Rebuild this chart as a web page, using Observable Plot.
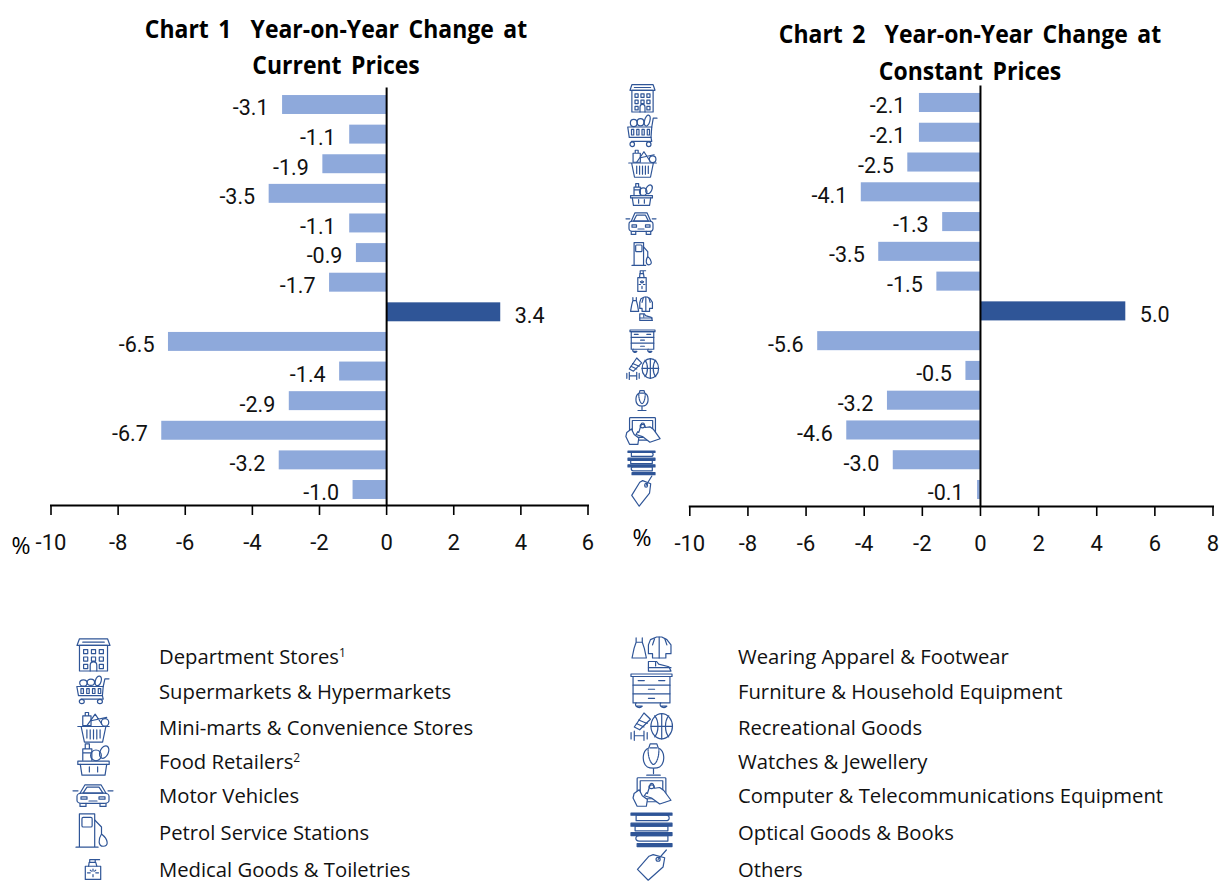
<!DOCTYPE html>
<html><head><meta charset="utf-8">
<script src="https://cdn.jsdelivr.net/npm/d3@7"></script>
<script src="https://cdn.jsdelivr.net/npm/@observablehq/plot@0.6"></script>
<style>
html,body{margin:0;padding:0;background:#fff;width:1219px;height:881px;overflow:hidden;position:relative;font-family:"Open Sans",sans-serif;color:#000}
.title{position:absolute;font-weight:700;font-size:25.5px;line-height:36px;text-align:center;word-spacing:4px;white-space:pre;transform:translateX(-50%) scaleX(.9);color:#000}
.leg{position:absolute;font-size:20.25px;line-height:20px;white-space:nowrap;color:#111;transform:translateY(-50%)}
.leg sup{font-size:12px;line-height:0;vertical-align:7px}
.pct{position:absolute;font-size:23px;line-height:26px;transform:translate(-50%,-50%)}
.ic{position:absolute;display:block}
.ic svg{display:block;width:100%;height:100%;overflow:visible}
.ic svg *{vector-effect:non-scaling-stroke}
</style></head><body>
<div id="page"></div>
<script>
const categories = ["Department Stores","Supermarkets & Hypermarkets","Mini-marts & Convenience Stores","Food Retailers","Motor Vehicles","Petrol Service Stations","Medical Goods & Toiletries","Wearing Apparel & Footwear","Furniture & Household Equipment","Recreational Goods","Watches & Jewellery","Computer & Telecommunications Equipment","Optical Goods & Books","Others"];
const currentPrices = [-3.1,-1.1,-1.9,-3.5,-1.1,-0.9,-1.7,3.4,-6.5,-1.4,-2.9,-6.7,-3.2,-1.0];
const constantPrices = [-2.1,-2.1,-2.5,-4.1,-1.3,-3.5,-1.5,5.0,-5.6,-0.5,-3.2,-4.6,-3.0,-0.1];
const notes = {"Department Stores":"1","Food Retailers":"2"};
const ticks1 = [-10,-8,-6,-4,-2,0,2,4,6];
const ticks2 = [-10,-8,-6,-4,-2,0,2,4,6,8];
const light = "#8EA9DB", dark = "#2F5597", ink = "#2F5597";

const icons = [
`<path d="M3 40V9H37V40Z"/><path d="M0 9L3 1H37L40 9Z"/><path d="M7 5H33"/><path d="M8 14h5v5h-5zM17.500 14h5v5h-5zM27 14h5v5h-5zM8 23h5v5h-5zM17.500 23h5v5h-5zM27 23h5v5h-5zM8 32h5v5h-5zM27 32h5v5h-5zM16 40v-7a4 4 0 0 1 8 0v7"/>`,
`<path d="M1 15H33L32 28H3Z"/><path d="M6 18v7M6 18h3v7h-3zM13 18h3v7h-3zM20 18h3v7h-3zM27 18h3v7h-3z"/><path d="M33 15L35 4H40M32 28L33 33H6"/><circle cx="7" cy="36.500" r="3"/><circle cx="29" cy="36.500" r="3"/><circle cx="9" cy="10" r="4.500"/><circle cx="18" cy="9" r="4.500"/><ellipse cx="27" cy="7" rx="3.500" ry="7" transform="rotate(15 27 7)"/>`,
`<path d="M1 20H39M5 20L9 39H31L35 20Z"/><path d="M12 24v10M16 24v11M20 24v11M24 24v11M28 24v10"/><path d="M10 3h4v4h-4zM7 7H17V19H7Z"/><path d="M12 19L22 5L30 17M17 13L36 9"/><circle cx="34" cy="15" r="4.500"/>`,
`<path d="M1 22H39V26H1Z"/><path d="M4 26L6 39H34L36 26"/><path d="M15 29v6M25 29v6"/><path d="M7 21V7H18V21M10 7V1H15V7M7 12H18"/><circle cx="23" cy="15" r="6.500"/><ellipse cx="33" cy="11" rx="5" ry="8" transform="rotate(25 33 11)"/>`,
`<path d="M7 17L12 3H28L33 17"/><path d="M10 17L14 7H26L30 17Z"/><rect x="4" y="17" width="32" height="17" rx="5"/><path d="M0 13H5M35 13H40M7 34v5h6v-5M27 34v5h6v-5"/><rect x="8" y="23" width="6" height="4"/><rect x="26" y="23" width="6" height="4"/><path d="M16 30H24"/>`,
`<path d="M0 39H26M4 39V1H22V39"/><rect x="7" y="5" width="12" height="11" rx="1.500"/><path d="M22 8L30 16V24M30 24C26 30 26 38 32 38C39 38 38 30 30 24"/>`,
`<path d="M6 15H34V39H6Z"/><path d="M12 15L13 8H25L27 15"/><path d="M14 8L14 3H32M24 3V8"/><path d="M20 20v4M20 30v4M10 27h5M25 27h5M15 22l2 2M25 22l-2 2"/>`,
`<path d="M5 1V6H11V1M5 6L3 13L1 24H15L13 13L11 6"/><path d="M19 3L25 0H30L35 3L39 9V19H34V24H21V19H17L17 9Z"/><path d="M27.500 0V24M23 2L21 9M33 2L35 9"/><path d="M17 39V28H25L27 31L37 34L39 39Z"/><path d="M17 35H39M24 29L24 33"/>`,
`<rect x="2" y="3" width="36" height="32"/><path d="M0 0H40V3H0ZM2 13.500H38M2 24H38"/><path d="M7 8H13M27 8H33M17 18.500H23M17 29.500H23"/><path d="M5 35a3 3 0 0 0 6 4H5M29 35a3 3 0 0 0 6 4H29"/>`,
`<ellipse cx="29.500" cy="19" rx="10" ry="18"/><path d="M19.500 19H39.500M29.500 1V37M23 4C27 11 27 27 23 34M36 4C32 11 32 27 36 34"/><path d="M4 20L13 0L19 9L9 24Z"/><path d="M8 10L16 15M6 15L13 20"/><path d="M1 28V37M4 26V39M13 26V39M16 28V37M4 32.500H13"/>`,
`<path d="M15 1H25L27 6C37 9 38 24 29 29C25 31 15 31 11 29C2 24 3 9 13 6Z"/><path d="M12 8C12 21 18 26 20 26C22 26 28 21 28 8" stroke-dasharray="1.500 1"/><path d="M15 6H25"/><path d="M20 31V37M10 39H30"/>`,
`<rect x="6" y="1" width="28" height="32" rx="1"/><path d="M9 5H31V29H9Z"/><path d="M6 39L2 28L3 22L8 17L11 25L16 30L15 39Z" fill="#fff"/><path d="M16 22L19 9C21 8 22 9 22 11L23 15L28 14L32 18L39 31L28 36L20 28L13 25L15 21Z" fill="#fff"/><circle cx="20" cy="13" r="2.500"/>`,
`<rect x="0" y="0" width="40" height="2.500" fill="${ink}"/><path d="M5 2.500H34A3 3 0 0 1 34 9H5V2.500Z"/><rect x="0" y="12" width="40" height="3.500" fill="${ink}"/><path d="M4 15.500H36V21H4Z"/><rect x="0" y="23" width="40" height="3.500" fill="${ink}"/><path d="M8 26.500H36V33H8A3 3 0 0 1 8 26.500Z"/><rect x="6" y="36" width="34" height="3.500" fill="${ink}"/>`,
`<path d="M22 6L36 10L34 22L16 39L3 25L17 8Z"/><circle cx="28" cy="12" r="2.500"/><path d="M28 12L38 0"/>`
];
function iconSvg(i){
  return `<svg viewBox="0 0 40 40" preserveAspectRatio="none" fill="none" stroke="${ink}" stroke-width="1.200" stroke-linejoin="round" stroke-linecap="round">${icons[i]}</svg>`;
}
const page = document.getElementById("page");
function placeIcon(i,b){
  const e=document.createElement("div");e.className="ic";
  e.style.cssText=`left:${b[0]}px;top:${b[1]}px;width:${b[2]-b[0]}px;height:${b[3]-b[1]}px`;
  e.innerHTML=iconSvg(i);page.appendChild(e);
}

// layout boxes for the icons: x0, y0, x1, y1
const stripBoxes=[[630,84,655,112],[627,115,657,147],[628,148,657,178],[630,183,653,206],[626,211,656,235],[632,242,653,266],[636,269,648,292],[630,297,653,321],[630,330,655,352],[626,358,659,380],[634,390,650,411],[624,417,661,445],[628,451,655,475],[630,476,653,507]];
const legendBoxes=[[77,638,110,671],[76,676,109,704],[77,710,110,743],[77,743,110,776],[73,783,113,807],[76,813,110,848],[82,858,104,880],[631,637,672,672],[631,674,672,707],[630,713,673,741],[640,743,667,776],[631,777,672,807],[631,813,672,847],[635,850,668,881]];
stripBoxes.forEach((b,i)=>placeIcon(i,b));
legendBoxes.forEach((b,i)=>placeIcon(i,b));
const legRowsY=[656,691,727,761,795,832,869];
const legColTextX=[159,738];

function chart(values,ticks,left,width,x0,x1,ytop,ybot,axisY){
  const rows=categories.map((c,i)=>({c,v:values[i]}));
  const neg=rows.filter(d=>d.v<0), pos=rows.filter(d=>d.v>0);
  const num='Roboto,sans-serif';
  const p=Plot.plot({
    width,height:570,marginLeft:x0-left,marginRight:left+width-x1,marginTop:Math.floor(ytop)-1.5,marginBottom:570-axisY,
    style:{fontFamily:num,fontSize:"22px",color:"#000",background:"transparent"},
    x:{domain:[ticks[0],ticks[ticks.length-1]]},
    y:{domain:categories,range:[ytop,ybot],paddingInner:0.36,paddingOuter:0.18,round:false,axis:null},
    marks:[
      Plot.barX(rows,{x:"v",y:"c",fill:d=>d.v>0?dark:light}),
      Plot.ruleX([0],{stroke:"#000",strokeWidth:2}),
      Plot.text(neg,{x:"v",y:"c",text:d=>d.v.toFixed(1),textAnchor:"end",dx:-14,dy:3.5,fontSize:21.5,fill:"#111"}),
      Plot.text(pos,{x:"v",y:"c",text:d=>d.v.toFixed(1),textAnchor:"start",dx:14,dy:3.5,fontSize:21.5,fill:"#111"}),
      Plot.axisX({anchor:"bottom",ticks,tickFormat:d=>String(d),tickSize:10,tickPadding:19,strokeWidth:1.6,fontSize:22,label:null,stroke:"#000",fill:"#111"}),
      Plot.frame({anchor:"bottom",stroke:"#000",strokeWidth:2})
    ]
  });
  p.style.position="absolute";p.style.left=left+"px";p.style.top="0px";
  page.appendChild(p);
}
chart(currentPrices,ticks1,0,610,50.5,587.5,89.7,504.3,505);
chart(constantPrices,ticks2,610,609,689.3,1212.5,87.6,504.4,506);

function title(t1,t2,cx,y1,y2){
  [[t1,y1],[t2,y2]].forEach(([t,y])=>{const d=document.createElement("div");d.className="title";d.textContent=t;d.style.left=cx+"px";d.style.top=(y-19)+"px";page.appendChild(d);});
}
title("Chart 1  Year-on-Year Change at","Current Prices",336,29,65);
title("Chart 2  Year-on-Year Change at","Constant Prices",970,34,71);
[["%",21,545],["%",642,537]].forEach(([t,x,y])=>{const d=document.createElement("div");d.className="pct";d.textContent=t;d.style.left=x+"px";d.style.top=y+"px";page.appendChild(d);});

categories.forEach((c,i)=>{
  const col=i<7?0:1,r=i<7?i:i-7;
  const d=document.createElement("div");d.className="leg";
  d.style.left=legColTextX[col]+"px";d.style.top=legRowsY[r]+"px";
  d.textContent=c;
  if(notes[c]){const s=document.createElement("sup");s.textContent=notes[c];d.appendChild(s);}
  page.appendChild(d);
});
</script>
</body></html>
